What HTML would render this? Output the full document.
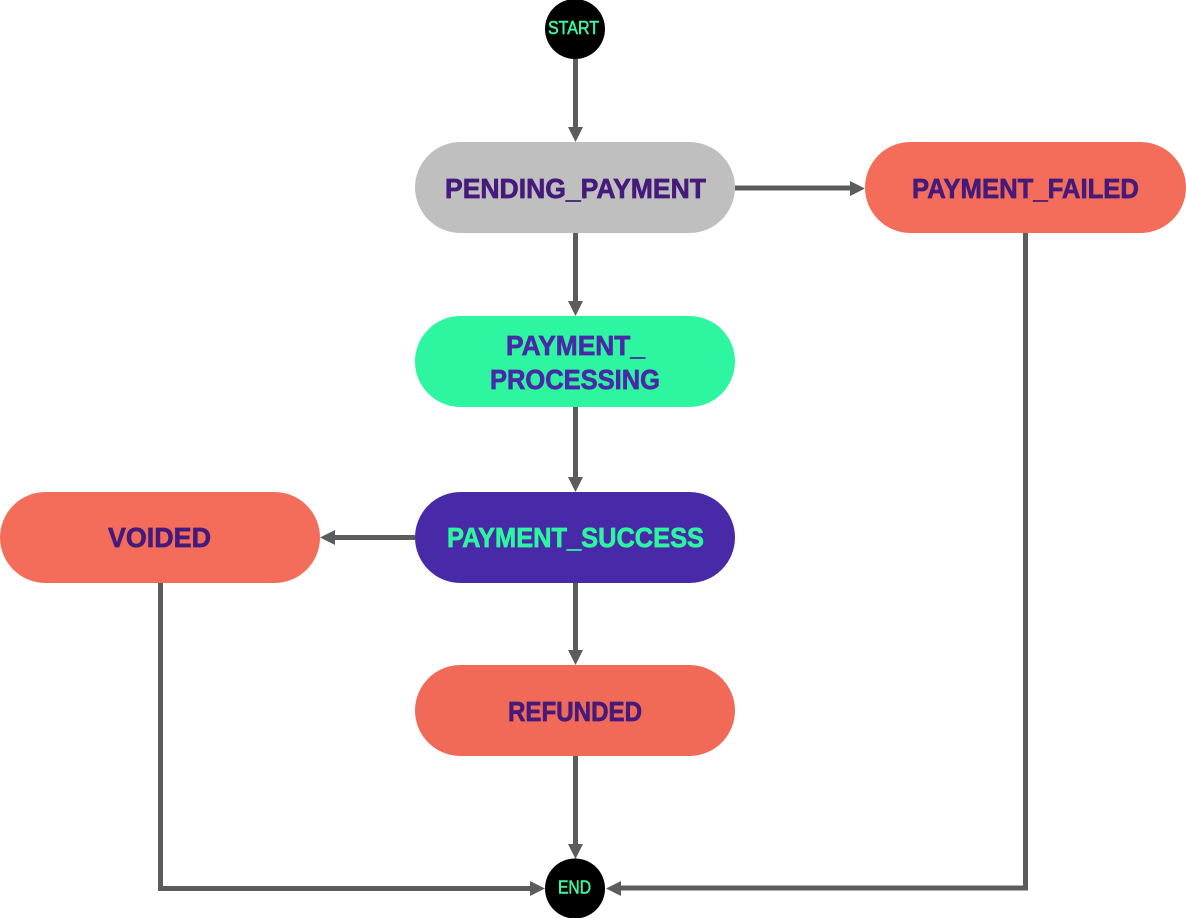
<!DOCTYPE html>
<html>
<head>
<meta charset="utf-8">
<style>
html,body{margin:0;padding:0;background:#fff;width:1186px;height:918px;overflow:hidden}
svg{display:block}
text{font-family:"Liberation Sans",sans-serif;font-weight:bold;font-size:28px;stroke-width:.7}
.s{font-size:18px;font-weight:normal;fill:#3df5a2;stroke:#3df5a2;stroke-width:.55}
.d{fill:#451a7a;stroke:#451a7a}
.p{fill:#4829a8;stroke:#4829a8}
.g{fill:#2ef5a0;stroke:#2ef5a0}
</style>
</head>
<body>
<svg width="1186" height="918" viewBox="0 0 1186 918" xmlns="http://www.w3.org/2000/svg">
<g fill="none" stroke="#5c5c5c" stroke-width="5">
<path d="M575.5 59V128"/>
<path d="M575.5 233V302"/>
<path d="M575.5 407V478"/>
<path d="M575.5 583V651"/>
<path d="M575.5 756V845"/>
<path d="M735 188H851"/>
<path d="M415 537.500H334"/>
<path d="M160.500 583V888.500H532"/>
<path d="M1025.500 233V888H620"/>
</g>
<g fill="#5c5c5c">
<path d="M568 127H583L575.500 142Z"/>
<path d="M568 301H583L575.500 316Z"/>
<path d="M568 477H583L575.500 492Z"/>
<path d="M568 650H583L575.500 665Z"/>
<path d="M568 844H583L575.500 859Z"/>
<path d="M850 181V196L865 188.500Z"/>
<path d="M335 530V545L320 537.500Z"/>
<path d="M530 881V896L545 888.500Z"/>
<path d="M621 881V896L606 888.500Z"/>
</g>
<circle cx="575" cy="29" r="30" fill="#000"/>
<circle cx="575" cy="888.500" r="30" fill="#000"/>
<rect x="415" y="142" width="320" height="91" rx="45.500" fill="#bfbfbf"/>
<rect x="865" y="142" width="321" height="91" rx="45.500" fill="#f46d5a"/>
<rect x="415" y="316" width="320" height="91" rx="45.500" fill="#2ef5a0"/>
<rect x="415" y="492" width="320" height="91" rx="45.500" fill="#4829a8"/>
<rect x="0" y="492" width="320" height="91" rx="45.500" fill="#f46d5a"/>
<rect x="415" y="665" width="320" height="91" rx="45.500" fill="#f16a58"/>
<text class="s" x="548" y="34" textLength="51" lengthAdjust="spacingAndGlyphs">START</text>
<text class="s" x="558" y="893.500" textLength="33" lengthAdjust="spacingAndGlyphs">END</text>
<text class="d" x="445" y="198" textLength="261" lengthAdjust="spacingAndGlyphs">PENDING_PAYMENT</text>
<text class="d" x="912" y="198" textLength="227" lengthAdjust="spacingAndGlyphs">PAYMENT_FAILED</text>
<text class="d" x="108" y="547" textLength="103" lengthAdjust="spacingAndGlyphs">VOIDED</text>
<text class="d" x="508" y="721" textLength="134" lengthAdjust="spacingAndGlyphs">REFUNDED</text>
<text class="p" x="506" y="355" textLength="139" lengthAdjust="spacingAndGlyphs">PAYMENT_</text>
<text class="p" x="490" y="389" textLength="170" lengthAdjust="spacingAndGlyphs">PROCESSING</text>
<text class="g" x="447" y="547" textLength="257" lengthAdjust="spacingAndGlyphs">PAYMENT_SUCCESS</text>
</svg>
</body>
</html>
